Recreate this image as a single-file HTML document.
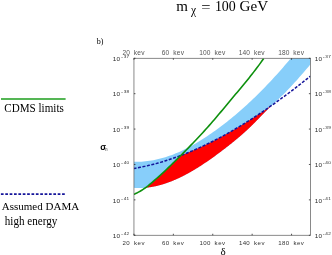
<!DOCTYPE html>
<html><head><meta charset="utf-8"><title>plot</title>
<style>
html,body{margin:0;padding:0;background:#fff;}
body{width:332px;height:255px;overflow:hidden;}
svg{display:block}
text{font-family:"Liberation Serif",serif;fill:#000}
.tk{font-family:"Liberation Sans",sans-serif;font-size:6.4px;fill:#2a2a2a}
.tb{font-size:6.1px;fill:#333}
.tt2{font-size:6.6px;fill:#555}
.sup{font-family:"Liberation Sans",sans-serif;font-size:4.7px;fill:#2a2a2a}
.lg{font-size:11px}
.tt{font-size:14px}
.bl{font-size:8px}
.sg{font-family:"Liberation Sans",sans-serif;font-size:8.4px;font-weight:bold}
.sn{font-family:"Liberation Sans",sans-serif;font-size:4.6px;fill:#333}
.dl{font-size:11px}
</style></head><body>
<svg style="will-change:transform" width="332" height="255" viewBox="0 0 332 255">
<rect width="332" height="255" fill="#fff"/>
<clipPath id="pc"><rect x="133.95" y="58.28" width="176.45" height="176.98"/></clipPath>
<g clip-path="url(#pc)">
<path d="M133.50,161.76 L135.49,161.81 L137.48,161.81 L139.47,161.76 L141.46,161.67 L143.46,161.53 L145.45,161.35 L147.44,161.12 L149.43,160.85 L151.42,160.54 L153.41,160.18 L155.40,159.79 L157.39,159.35 L159.38,158.87 L161.38,158.35 L163.37,157.79 L165.36,157.18 L167.35,156.54 L169.34,155.86 L171.33,155.15 L173.32,154.39 L175.31,153.60 L177.31,152.76 L179.30,151.90 L181.29,150.99 L183.28,150.05 L185.27,149.08 L187.26,148.07 L189.25,147.02 L191.24,145.95 L193.23,144.84 L195.23,143.70 L197.22,142.52 L199.21,141.32 L201.20,140.08 L203.19,138.82 L205.18,137.53 L207.17,136.21 L209.16,134.87 L211.15,133.49 L213.15,132.09 L215.14,130.67 L217.13,129.22 L219.12,127.75 L221.11,126.26 L223.10,124.74 L225.09,123.20 L227.08,121.64 L229.07,120.05 L231.07,118.44 L233.06,116.80 L235.05,115.14 L237.04,113.46 L239.03,111.75 L241.02,110.02 L243.01,108.26 L245.00,106.47 L246.99,104.66 L248.99,102.83 L250.98,100.96 L252.97,99.07 L254.96,97.16 L256.95,95.21 L258.94,93.24 L260.93,91.25 L262.92,89.23 L264.92,87.18 L266.91,85.11 L268.90,83.01 L270.89,80.89 L272.88,78.75 L274.87,76.58 L276.86,74.38 L278.85,72.16 L280.84,69.92 L282.84,67.66 L284.83,65.37 L286.82,63.06 L288.81,60.72 L290.80,58.37 L311.40,57.28 L310.50,64.26 L308.26,66.93 L306.02,69.58 L303.78,72.20 L301.54,74.79 L299.30,77.35 L297.06,79.88 L294.82,82.37 L292.58,84.82 L290.34,87.22 L288.09,89.58 L285.85,91.88 L283.61,94.14 L281.37,96.33 L279.13,98.48 L276.89,100.59 L274.65,102.69 L272.41,104.80 L270.17,106.94 L267.93,109.11 L265.69,111.35 L263.45,113.63 L261.21,115.94 L258.97,118.27 L256.73,120.58 L254.49,122.86 L252.25,125.08 L250.01,127.25 L247.77,129.37 L245.53,131.43 L243.28,133.44 L241.04,135.41 L238.80,137.33 L236.56,139.21 L234.32,141.06 L232.08,142.88 L229.84,144.66 L227.60,146.43 L225.36,148.17 L223.12,149.89 L220.88,151.59 L218.64,153.27 L216.40,154.93 L214.16,156.56 L211.92,158.17 L209.68,159.75 L207.44,161.31 L205.20,162.83 L202.96,164.33 L200.72,165.79 L198.47,167.22 L196.23,168.61 L193.99,169.97 L191.75,171.28 L189.51,172.56 L187.27,173.80 L185.03,175.00 L182.79,176.15 L180.55,177.26 L178.31,178.33 L176.07,179.34 L173.83,180.31 L171.59,181.23 L169.35,182.09 L167.11,182.91 L164.87,183.67 L162.63,184.37 L160.39,185.01 L158.15,185.60 L155.91,186.13 L153.66,186.60 L151.42,187.00 L149.18,187.34 L146.94,187.62 L144.70,187.82 L142.46,187.96 L140.22,188.04 L137.98,188.04 L135.74,187.96 L133.50,187.82Z" fill="#87cefa"/>
<path d="M145.56,187.63 L145.91,187.37 L146.27,187.11 L146.62,186.85 L146.98,186.58 L147.33,186.30 L147.69,186.03 L148.04,185.75 L148.40,185.47 L148.75,185.19 L149.11,184.90 L149.46,184.61 L149.82,184.32 L150.17,184.03 L150.53,183.73 L150.88,183.43 L151.24,183.14 L151.59,182.84 L151.94,182.54 L152.30,182.23 L152.65,181.93 L153.01,181.62 L153.36,181.32 L153.72,181.01 L154.07,180.70 L154.43,180.39 L154.78,180.08 L155.14,179.77 L155.49,179.46 L155.85,179.15 L156.20,178.84 L156.56,178.53 L156.91,178.22 L157.27,177.90 L157.62,177.59 L157.97,177.27 L158.33,176.96 L158.68,176.64 L159.04,176.33 L159.39,176.01 L159.75,175.69 L160.10,175.37 L160.46,175.05 L160.81,174.73 L161.17,174.41 L161.52,174.09 L161.88,173.76 L162.23,173.43 L162.59,173.11 L162.94,172.78 L163.30,172.46 L163.65,172.13 L164.01,171.80 L164.36,171.47 L164.71,171.14 L165.07,170.81 L165.42,170.47 L165.78,170.14 L166.13,169.81 L166.49,169.47 L166.84,169.13 L167.20,168.80 L167.55,168.46 L167.91,168.12 L168.26,167.79 L168.62,167.45 L168.97,167.11 L169.33,166.77 L169.68,166.43 L170.04,166.08 L170.39,165.74 L170.74,165.40 L171.10,165.05 L171.45,164.71 L171.81,164.36 L172.16,164.02 L172.52,163.67 L172.87,163.33 L173.23,162.98 L173.58,162.63 L173.94,162.29 L174.29,161.94 L174.65,161.59 L175.00,161.24 L175.36,160.89 L175.71,160.54 L176.07,160.19 L176.42,159.84 L176.77,159.49 L177.13,159.14 L177.48,158.78 L177.84,158.43 L178.19,158.08 L178.55,157.73 L178.90,157.37 L179.26,157.02 L179.61,156.67 L179.97,156.31 L180.32,155.96 L180.68,155.60 L181.03,155.40 L181.39,155.27 L181.74,155.13 L182.10,154.99 L182.45,154.86 L182.80,154.72 L183.16,154.58 L183.51,154.44 L183.87,154.30 L184.22,154.17 L184.58,154.03 L184.93,153.89 L185.29,153.74 L185.64,153.60 L186.00,153.46 L186.35,153.32 L186.71,153.17 L187.06,153.03 L187.42,152.89 L187.77,152.74 L188.13,152.60 L188.48,152.45 L188.83,152.30 L189.19,152.16 L189.54,152.01 L189.90,151.86 L190.25,151.71 L190.61,151.56 L190.96,151.42 L191.32,151.27 L191.67,151.12 L192.03,150.97 L192.38,150.81 L192.74,150.66 L193.09,150.51 L193.45,150.36 L193.80,150.20 L194.16,150.05 L194.51,149.90 L194.86,149.74 L195.22,149.58 L195.57,149.43 L195.93,149.27 L196.28,149.12 L196.64,148.96 L196.99,148.80 L197.35,148.64 L197.70,148.48 L198.06,148.32 L198.41,148.17 L198.77,148.00 L199.12,147.84 L199.48,147.68 L199.83,147.52 L200.19,147.36 L200.54,147.20 L200.89,147.03 L201.25,146.87 L201.60,146.70 L201.96,146.54 L202.31,146.37 L202.67,146.21 L203.02,146.04 L203.38,145.87 L203.73,145.71 L204.09,145.54 L204.44,145.37 L204.80,145.20 L205.15,145.03 L205.51,144.86 L205.86,144.69 L206.22,144.52 L206.57,144.35 L206.92,144.18 L207.28,144.01 L207.63,143.84 L207.99,143.66 L208.34,143.49 L208.70,143.31 L209.05,143.14 L209.41,142.97 L209.76,142.79 L210.12,142.61 L210.47,142.44 L210.83,142.26 L211.18,142.08 L211.54,141.91 L211.89,141.73 L212.25,141.55 L212.60,141.37 L212.95,141.19 L213.31,141.01 L213.66,140.83 L214.02,140.65 L214.37,140.47 L214.73,140.28 L215.08,140.10 L215.44,139.92 L215.79,139.73 L216.15,139.55 L216.50,139.37 L216.86,139.18 L217.21,139.00 L217.57,138.81 L217.92,138.62 L218.28,138.44 L218.63,138.25 L218.98,138.06 L219.34,137.87 L219.69,137.69 L220.05,137.50 L220.40,137.31 L220.76,137.12 L221.11,136.93 L221.47,136.74 L221.82,136.54 L222.18,136.35 L222.53,136.16 L222.89,135.97 L223.24,135.78 L223.60,135.58 L223.95,135.39 L224.31,135.19 L224.66,135.00 L225.02,134.80 L225.37,134.61 L225.72,134.41 L226.08,134.21 L226.43,134.02 L226.79,133.82 L227.14,133.62 L227.50,133.42 L227.85,133.23 L228.21,133.03 L228.56,132.83 L228.92,132.62 L229.27,132.42 L229.63,132.22 L229.98,132.02 L230.34,131.82 L230.69,131.62 L231.05,131.41 L231.40,131.21 L231.75,131.01 L232.11,130.80 L232.46,130.60 L232.82,130.39 L233.17,130.19 L233.53,129.98 L233.88,129.78 L234.24,129.57 L234.59,129.36 L234.95,129.15 L235.30,128.95 L235.66,128.74 L236.01,128.53 L236.37,128.32 L236.72,128.11 L237.08,127.90 L237.43,127.69 L237.78,127.48 L238.14,127.27 L238.49,127.05 L238.85,126.84 L239.20,126.63 L239.56,126.41 L239.91,126.20 L240.27,125.99 L240.62,125.77 L240.98,125.56 L241.33,125.34 L241.69,125.13 L242.04,124.91 L242.40,124.69 L242.75,124.48 L243.11,124.26 L243.46,124.04 L243.81,123.82 L244.17,123.60 L244.52,123.39 L244.88,123.17 L245.23,122.95 L245.59,122.73 L245.94,122.51 L246.30,122.28 L246.65,122.06 L247.01,121.84 L247.36,121.62 L247.72,121.40 L248.07,121.17 L248.43,120.95 L248.78,120.72 L249.14,120.50 L249.49,120.27 L249.84,120.05 L250.20,119.82 L250.55,119.60 L250.91,119.37 L251.26,119.14 L251.62,118.92 L251.97,118.69 L252.33,118.46 L252.68,118.23 L253.04,118.00 L253.39,117.77 L253.75,117.54 L254.10,117.32 L254.46,117.09 L254.81,116.85 L255.17,116.62 L255.52,116.39 L255.87,116.16 L256.23,115.93 L256.58,115.69 L256.94,115.46 L257.29,115.23 L257.65,114.99 L258.00,114.76 L258.36,114.52 L258.71,114.29 L259.07,114.05 L259.42,113.82 L259.78,113.58 L260.13,113.34 L260.49,113.11 L260.84,112.87 L261.20,112.63 L261.55,112.39 L261.90,112.15 L262.26,111.91 L262.61,111.67 L262.97,111.43 L263.32,111.20 L263.68,110.95 L264.03,110.71 L264.39,110.47 L264.74,110.23 L265.10,109.99 L265.45,109.75 L265.81,109.50 L266.16,109.26 L266.52,109.01 L266.87,108.77 L267.23,108.53 L267.58,108.28 L267.93,108.04 L268.29,107.79 L268.64,107.54 L269.00,107.30 L269.35,107.05 L269.71,106.81 L270.06,106.56 L270.42,106.31 L270.77,106.06 L271.13,105.81 L271.48,105.56 L271.84,105.32 L271.84,105.35 L271.48,105.69 L271.13,106.02 L270.77,106.36 L270.42,106.70 L270.06,107.04 L269.71,107.39 L269.35,107.73 L269.00,108.07 L268.64,108.42 L268.29,108.76 L267.93,109.11 L267.58,109.46 L267.23,109.82 L266.87,110.17 L266.52,110.52 L266.16,110.88 L265.81,111.23 L265.45,111.59 L265.10,111.95 L264.74,112.31 L264.39,112.68 L264.03,113.04 L263.68,113.40 L263.32,113.76 L262.97,114.13 L262.61,114.49 L262.26,114.86 L261.90,115.23 L261.55,115.59 L261.20,115.96 L260.84,116.33 L260.49,116.69 L260.13,117.06 L259.78,117.43 L259.42,117.80 L259.07,118.16 L258.71,118.53 L258.36,118.90 L258.00,119.26 L257.65,119.63 L257.29,119.99 L256.94,120.36 L256.58,120.72 L256.23,121.08 L255.87,121.44 L255.52,121.80 L255.17,122.17 L254.81,122.53 L254.46,122.89 L254.10,123.24 L253.75,123.59 L253.39,123.95 L253.04,124.30 L252.68,124.65 L252.33,125.00 L251.97,125.35 L251.62,125.69 L251.26,126.04 L250.91,126.38 L250.55,126.72 L250.20,127.07 L249.84,127.41 L249.49,127.74 L249.14,128.08 L248.78,128.41 L248.43,128.75 L248.07,129.08 L247.72,129.41 L247.36,129.74 L247.01,130.07 L246.65,130.39 L246.30,130.72 L245.94,131.05 L245.59,131.37 L245.23,131.69 L244.88,132.01 L244.52,132.33 L244.17,132.65 L243.81,132.96 L243.46,133.28 L243.11,133.60 L242.75,133.91 L242.40,134.22 L242.04,134.53 L241.69,134.84 L241.33,135.15 L240.98,135.46 L240.62,135.77 L240.27,136.07 L239.91,136.38 L239.56,136.68 L239.20,136.98 L238.85,137.29 L238.49,137.59 L238.14,137.89 L237.78,138.18 L237.43,138.48 L237.08,138.78 L236.72,139.08 L236.37,139.37 L236.01,139.67 L235.66,139.96 L235.30,140.25 L234.95,140.54 L234.59,140.84 L234.24,141.13 L233.88,141.42 L233.53,141.70 L233.17,141.99 L232.82,142.28 L232.46,142.57 L232.11,142.85 L231.75,143.14 L231.40,143.42 L231.05,143.70 L230.69,143.99 L230.34,144.27 L229.98,144.55 L229.63,144.83 L229.27,145.11 L228.92,145.39 L228.56,145.67 L228.21,145.95 L227.85,146.23 L227.50,146.51 L227.14,146.78 L226.79,147.06 L226.43,147.33 L226.08,147.61 L225.72,147.88 L225.37,148.16 L225.02,148.43 L224.66,148.70 L224.31,148.98 L223.95,149.25 L223.60,149.52 L223.24,149.80 L222.89,150.07 L222.53,150.34 L222.18,150.60 L221.82,150.87 L221.47,151.14 L221.11,151.41 L220.76,151.68 L220.40,151.95 L220.05,152.21 L219.69,152.48 L219.34,152.75 L218.98,153.01 L218.63,153.28 L218.28,153.54 L217.92,153.80 L217.57,154.07 L217.21,154.33 L216.86,154.59 L216.50,154.85 L216.15,155.11 L215.79,155.37 L215.44,155.63 L215.08,155.89 L214.73,156.15 L214.37,156.41 L214.02,156.66 L213.66,156.92 L213.31,157.17 L212.95,157.43 L212.60,157.68 L212.25,157.94 L211.89,158.19 L211.54,158.44 L211.18,158.69 L210.83,158.94 L210.47,159.19 L210.12,159.44 L209.76,159.69 L209.41,159.94 L209.05,160.19 L208.70,160.43 L208.34,160.68 L207.99,160.93 L207.63,161.17 L207.28,161.42 L206.92,161.66 L206.57,161.90 L206.22,162.14 L205.86,162.38 L205.51,162.62 L205.15,162.86 L204.80,163.10 L204.44,163.34 L204.09,163.57 L203.73,163.81 L203.38,164.05 L203.02,164.28 L202.67,164.51 L202.31,164.75 L201.96,164.98 L201.60,165.21 L201.25,165.44 L200.89,165.67 L200.54,165.90 L200.19,166.13 L199.83,166.35 L199.48,166.58 L199.12,166.80 L198.77,167.03 L198.41,167.26 L198.06,167.48 L197.70,167.70 L197.35,167.92 L196.99,168.14 L196.64,168.36 L196.28,168.58 L195.93,168.79 L195.57,169.01 L195.22,169.22 L194.86,169.44 L194.51,169.65 L194.16,169.87 L193.80,170.08 L193.45,170.29 L193.09,170.50 L192.74,170.71 L192.38,170.91 L192.03,171.12 L191.67,171.33 L191.32,171.53 L190.96,171.74 L190.61,171.94 L190.25,172.14 L189.90,172.34 L189.54,172.55 L189.19,172.74 L188.83,172.94 L188.48,173.14 L188.13,173.33 L187.77,173.53 L187.42,173.72 L187.06,173.92 L186.71,174.11 L186.35,174.30 L186.00,174.48 L185.64,174.67 L185.29,174.86 L184.93,175.05 L184.58,175.23 L184.22,175.42 L183.87,175.60 L183.51,175.78 L183.16,175.96 L182.80,176.15 L182.45,176.32 L182.10,176.50 L181.74,176.67 L181.39,176.85 L181.03,177.03 L180.68,177.20 L180.32,177.37 L179.97,177.54 L179.61,177.71 L179.26,177.88 L178.90,178.05 L178.55,178.21 L178.19,178.38 L177.84,178.54 L177.48,178.70 L177.13,178.86 L176.77,179.02 L176.42,179.18 L176.07,179.35 L175.71,179.50 L175.36,179.65 L175.00,179.80 L174.65,179.96 L174.29,180.11 L173.94,180.26 L173.58,180.41 L173.23,180.56 L172.87,180.70 L172.52,180.85 L172.16,180.99 L171.81,181.14 L171.45,181.28 L171.10,181.42 L170.74,181.55 L170.39,181.69 L170.04,181.83 L169.68,181.97 L169.33,182.10 L168.97,182.23 L168.62,182.36 L168.26,182.49 L167.91,182.62 L167.55,182.75 L167.20,182.87 L166.84,183.00 L166.49,183.12 L166.13,183.24 L165.78,183.36 L165.42,183.48 L165.07,183.60 L164.71,183.71 L164.36,183.82 L164.01,183.94 L163.65,184.05 L163.30,184.16 L162.94,184.27 L162.59,184.38 L162.23,184.48 L161.88,184.58 L161.52,184.69 L161.17,184.79 L160.81,184.89 L160.46,184.99 L160.10,185.09 L159.75,185.18 L159.39,185.27 L159.04,185.37 L158.68,185.46 L158.33,185.55 L157.97,185.64 L157.62,185.73 L157.27,185.81 L156.91,185.89 L156.56,185.98 L156.20,186.06 L155.85,186.14 L155.49,186.22 L155.14,186.29 L154.78,186.36 L154.43,186.44 L154.07,186.51 L153.72,186.58 L153.36,186.65 L153.01,186.71 L152.65,186.78 L152.30,186.84 L151.94,186.91 L151.59,186.97 L151.24,187.03 L150.88,187.08 L150.53,187.14 L150.17,187.19 L149.82,187.24 L149.46,187.30 L149.11,187.35 L148.75,187.39 L148.40,187.44 L148.04,187.48 L147.69,187.52 L147.33,187.57 L146.98,187.61 L146.62,187.65 L146.27,187.68 L145.91,187.71 L145.56,187.74Z" fill="#ff0000"/>
<path d="M133.50,168.54 L135.74,168.15 L137.98,167.74 L140.22,167.31 L142.46,166.85 L144.70,166.37 L146.94,165.87 L149.18,165.34 L151.42,164.79 L153.66,164.22 L155.91,163.62 L158.15,163.00 L160.39,162.36 L162.63,161.69 L164.87,161.01 L167.11,160.30 L169.35,159.57 L171.59,158.81 L173.83,158.04 L176.07,157.24 L178.31,156.43 L180.55,155.59 L182.79,154.73 L185.03,153.85 L187.27,152.95 L189.51,152.03 L191.75,151.08 L193.99,150.12 L196.23,149.14 L198.47,148.14 L200.72,147.12 L202.96,146.07 L205.20,145.01 L207.44,143.93 L209.68,142.83 L211.92,141.71 L214.16,140.58 L216.40,139.42 L218.64,138.25 L220.88,137.05 L223.12,135.84 L225.36,134.61 L227.60,133.37 L229.84,132.10 L232.08,130.82 L234.32,129.52 L236.56,128.20 L238.80,126.87 L241.04,125.52 L243.28,124.15 L245.53,122.77 L247.77,121.37 L250.01,119.95 L252.25,118.51 L254.49,117.07 L256.73,115.60 L258.97,114.12 L261.21,112.62 L263.45,111.11 L265.69,109.58 L267.93,108.04 L270.17,106.48 L272.41,104.91 L274.65,103.33 L276.89,101.72 L279.13,100.11 L281.37,98.48 L283.61,96.84 L285.85,95.18 L288.09,93.51 L290.34,91.82 L292.58,90.13 L294.82,88.41 L297.06,86.69 L299.30,84.95 L301.54,83.20 L303.78,81.44 L306.02,79.67 L308.26,77.88 L310.50,76.08" fill="none" stroke="#14149a" stroke-width="1.5" stroke-dasharray="3.0 1.55"/>
<path d="M133.50,194.48 L135.15,193.79 L136.80,193.01 L138.44,192.16 L140.09,191.23 L141.74,190.23 L143.39,189.16 L145.04,188.02 L146.68,186.81 L148.33,185.53 L149.98,184.19 L151.63,182.81 L153.28,181.39 L154.93,179.96 L156.57,178.51 L158.22,177.06 L159.87,175.58 L161.52,174.09 L163.17,172.58 L164.81,171.05 L166.46,169.50 L168.11,167.93 L169.76,166.35 L171.41,164.76 L173.05,163.15 L174.70,161.53 L176.35,159.91 L178.00,158.27 L179.65,156.63 L181.29,154.98 L182.94,153.33 L184.59,151.67 L186.24,150.00 L187.89,148.32 L189.54,146.63 L191.18,144.93 L192.83,143.22 L194.48,141.50 L196.13,139.77 L197.78,138.02 L199.42,136.26 L201.07,134.48 L202.72,132.69 L204.37,130.88 L206.02,129.06 L207.66,127.21 L209.31,125.35 L210.96,123.47 L212.61,121.58 L214.26,119.66 L215.91,117.73 L217.55,115.78 L219.20,113.83 L220.85,111.87 L222.50,109.90 L224.15,107.92 L225.79,105.94 L227.44,103.96 L229.09,101.98 L230.74,100.01 L232.39,98.04 L234.03,96.08 L235.68,94.11 L237.33,92.15 L238.98,90.18 L240.63,88.20 L242.27,86.22 L243.92,84.22 L245.57,82.21 L247.22,80.19 L248.87,78.14 L250.52,76.08 L252.16,73.99 L253.81,71.88 L255.46,69.74 L257.11,67.56 L258.76,65.36 L260.40,63.12 L262.05,60.84 L263.70,58.52" fill="none" stroke="#0d900d" stroke-width="1.6"/>
</g>
<rect x="133.95" y="58.28" width="176.45" height="176.98" fill="none" stroke="#5c5c5c" stroke-width="0.72"/>
<line x1="133.95" y1="235.26" x2="133.95" y2="233.76" stroke="#2a2a2a" stroke-width="0.8"/>
<line x1="133.95" y1="58.28" x2="133.95" y2="59.78" stroke="#2a2a2a" stroke-width="0.8"/>
<text x="124.27 128.00 131.73 135.47 139.19 142.93" y="244.90" class="tk tb" text-anchor="middle">20 kev</text>
<text x="124.27 128.00 131.73 135.47 139.19 142.93" y="54.90" class="tk tt2" text-anchor="middle">20 kev</text>
<line x1="173.35" y1="235.26" x2="173.35" y2="233.76" stroke="#2a2a2a" stroke-width="0.8"/>
<line x1="173.35" y1="58.28" x2="173.35" y2="59.78" stroke="#2a2a2a" stroke-width="0.8"/>
<text x="163.68 167.41 171.13 174.87 178.59 182.32" y="244.90" class="tk tb" text-anchor="middle">60 kev</text>
<text x="163.68 167.41 171.13 174.87 178.59 182.32" y="54.90" class="tk tt2" text-anchor="middle">60 kev</text>
<line x1="212.75" y1="235.26" x2="212.75" y2="233.76" stroke="#2a2a2a" stroke-width="0.8"/>
<line x1="212.75" y1="58.28" x2="212.75" y2="59.78" stroke="#2a2a2a" stroke-width="0.8"/>
<text x="201.21 204.94 208.67 212.40 216.13 219.86 223.59" y="244.90" class="tk tb" text-anchor="middle">100 kev</text>
<text x="201.21 204.94 208.67 212.40 216.13 219.86 223.59" y="54.90" class="tk tt2" text-anchor="middle">100 kev</text>
<line x1="252.15" y1="235.26" x2="252.15" y2="233.76" stroke="#2a2a2a" stroke-width="0.8"/>
<line x1="252.15" y1="58.28" x2="252.15" y2="59.78" stroke="#2a2a2a" stroke-width="0.8"/>
<text x="240.61 244.34 248.07 251.80 255.53 259.26 262.99" y="244.90" class="tk tb" text-anchor="middle">140 kev</text>
<text x="240.61 244.34 248.07 251.80 255.53 259.26 262.99" y="54.90" class="tk tt2" text-anchor="middle">140 kev</text>
<line x1="291.55" y1="235.26" x2="291.55" y2="233.76" stroke="#2a2a2a" stroke-width="0.8"/>
<line x1="291.55" y1="58.28" x2="291.55" y2="59.78" stroke="#2a2a2a" stroke-width="0.8"/>
<text x="280.01 283.74 287.47 291.20 294.93 298.66 302.39" y="244.90" class="tk tb" text-anchor="middle">180 kev</text>
<text x="280.01 283.74 287.47 291.20 294.93 298.66 302.39" y="54.90" class="tk tt2" text-anchor="middle">180 kev</text>
<line x1="133.95" y1="58.28" x2="135.45" y2="58.28" stroke="#2a2a2a" stroke-width="0.8"/>
<line x1="310.4" y1="58.28" x2="308.90" y2="58.28" stroke="#2a2a2a" stroke-width="0.8"/>
<text transform="translate(0,61.03) scale(1,0.8)" x="114.52 118.36" y="0" class="tk" text-anchor="middle">10</text><text transform="translate(0,58.08) scale(1,0.75)" x="122.05 124.95 127.85" y="0" class="sup" text-anchor="middle">-37</text>
<text transform="translate(0,61.03) scale(1,0.8)" x="316.52 320.36" y="0" class="tk" text-anchor="middle">10</text><text transform="translate(0,58.08) scale(1,0.75)" x="323.75 326.65 329.55" y="0" class="sup" text-anchor="middle">-37</text>
<line x1="133.95" y1="93.68" x2="135.45" y2="93.68" stroke="#2a2a2a" stroke-width="0.8"/>
<line x1="310.4" y1="93.68" x2="308.90" y2="93.68" stroke="#2a2a2a" stroke-width="0.8"/>
<text transform="translate(0,96.43) scale(1,0.8)" x="114.52 118.36" y="0" class="tk" text-anchor="middle">10</text><text transform="translate(0,93.48) scale(1,0.75)" x="122.05 124.95 127.85" y="0" class="sup" text-anchor="middle">-38</text>
<text transform="translate(0,96.43) scale(1,0.8)" x="316.52 320.36" y="0" class="tk" text-anchor="middle">10</text><text transform="translate(0,93.48) scale(1,0.75)" x="323.75 326.65 329.55" y="0" class="sup" text-anchor="middle">-38</text>
<line x1="133.95" y1="129.07" x2="135.45" y2="129.07" stroke="#2a2a2a" stroke-width="0.8"/>
<line x1="310.4" y1="129.07" x2="308.90" y2="129.07" stroke="#2a2a2a" stroke-width="0.8"/>
<text transform="translate(0,131.82) scale(1,0.8)" x="114.52 118.36" y="0" class="tk" text-anchor="middle">10</text><text transform="translate(0,128.87) scale(1,0.75)" x="122.05 124.95 127.85" y="0" class="sup" text-anchor="middle">-39</text>
<text transform="translate(0,131.82) scale(1,0.8)" x="316.52 320.36" y="0" class="tk" text-anchor="middle">10</text><text transform="translate(0,128.87) scale(1,0.75)" x="323.75 326.65 329.55" y="0" class="sup" text-anchor="middle">-39</text>
<line x1="133.95" y1="164.47" x2="135.45" y2="164.47" stroke="#2a2a2a" stroke-width="0.8"/>
<line x1="310.4" y1="164.47" x2="308.90" y2="164.47" stroke="#2a2a2a" stroke-width="0.8"/>
<text transform="translate(0,167.22) scale(1,0.8)" x="114.52 118.36" y="0" class="tk" text-anchor="middle">10</text><text transform="translate(0,164.27) scale(1,0.75)" x="122.05 124.95 127.85" y="0" class="sup" text-anchor="middle">-40</text>
<text transform="translate(0,167.22) scale(1,0.8)" x="316.52 320.36" y="0" class="tk" text-anchor="middle">10</text><text transform="translate(0,164.27) scale(1,0.75)" x="323.75 326.65 329.55" y="0" class="sup" text-anchor="middle">-40</text>
<line x1="133.95" y1="199.86" x2="135.45" y2="199.86" stroke="#2a2a2a" stroke-width="0.8"/>
<line x1="310.4" y1="199.86" x2="308.90" y2="199.86" stroke="#2a2a2a" stroke-width="0.8"/>
<text transform="translate(0,202.61) scale(1,0.8)" x="114.52 118.36" y="0" class="tk" text-anchor="middle">10</text><text transform="translate(0,199.66) scale(1,0.75)" x="122.05 124.95 127.85" y="0" class="sup" text-anchor="middle">-41</text>
<text transform="translate(0,202.61) scale(1,0.8)" x="316.52 320.36" y="0" class="tk" text-anchor="middle">10</text><text transform="translate(0,199.66) scale(1,0.75)" x="323.75 326.65 329.55" y="0" class="sup" text-anchor="middle">-41</text>
<line x1="133.95" y1="235.26" x2="135.45" y2="235.26" stroke="#2a2a2a" stroke-width="0.8"/>
<line x1="310.4" y1="235.26" x2="308.90" y2="235.26" stroke="#2a2a2a" stroke-width="0.8"/>
<text transform="translate(0,238.01) scale(1,0.8)" x="114.52 118.36" y="0" class="tk" text-anchor="middle">10</text><text transform="translate(0,235.06) scale(1,0.75)" x="122.05 124.95 127.85" y="0" class="sup" text-anchor="middle">-42</text>
<text transform="translate(0,238.01) scale(1,0.8)" x="316.52 320.36" y="0" class="tk" text-anchor="middle">10</text><text transform="translate(0,235.06) scale(1,0.75)" x="323.75 326.65 329.55" y="0" class="sup" text-anchor="middle">-42</text>
<line x1="1" y1="99.0" x2="65.6" y2="99.0" stroke="#1c9e1c" stroke-width="1.55"/>
<text transform="translate(4.3,111.7) scale(1.0,1.15)" class="lg" style="font-size:11.1px">CDMS limits</text>
<line x1="0.9" y1="194.0" x2="64.9" y2="194.0" stroke="#15159a" stroke-width="1.75" stroke-dasharray="2.7 1.67"/>
<text transform="translate(1.8,209.9) scale(0.992,1.0)" class="lg" style="font-size:11.1px">Assumed DAMA</text>
<text transform="translate(4.8,224.5) scale(1.0,1.03)" class="lg" style="font-size:11.1px">high energy</text>
<text x="176.2" y="10.75" class="tt" style="font-size:15px">m</text>
<text transform="translate(190.9,13.5) scale(0.9,1.0)" class="tt" style="font-size:12.8px">χ</text>
<text transform="translate(201.3,11.9) scale(1.14,1.0)" class="tt" style="font-size:14.4px">=</text>
<text transform="translate(214.9,10.75) scale(0.93,1.0)" class="tt" style="font-size:15px">100</text>
<text transform="translate(239.6,10.75) scale(1.02,1.0)" class="tt" style="font-size:14.8px">GeV</text>
<text x="96.7" y="43.6" class="bl">b)</text>
<text transform="translate(100.2,149.8) scale(1.05,1.06)" class="sg" style="font-size:8.2px">σ</text>
<text x="105.0" y="150.6" class="sn">n</text>
<text x="220.4" y="254.5" class="dl">δ</text>
</svg>
</body></html>
